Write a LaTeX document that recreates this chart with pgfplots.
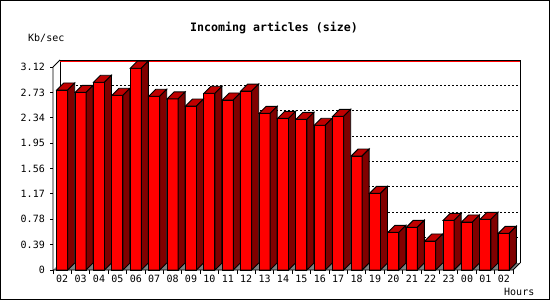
\documentclass[border=0pt]{standalone}
\usepackage{pgfplots}
\pgfplotsset{compat=1.18}
\usepackage{pgfplotstable}
\usepackage{fontspec}
\setmainfont{DejaVu Sans}
\newfontfamily\monofont{DejaVu Sans Mono}
\definecolor{topred}{RGB}{192,0,0}
\definecolor{sidered}{RGB}{128,0,0}
\definecolor{floorgray}{RGB}{128,128,128}

\pgfplotstableread{
i v
0 2.767
1 2.730
2 2.885
3 2.685
4 3.100
5 2.670
6 2.630
7 2.520
8 2.716
9 2.613
10 2.750
11 2.408
12 2.330
13 2.316
14 2.224
15 2.362
16 1.752
17 1.178
18 0.579
19 0.656
20 0.446
21 0.763
22 0.738
23 0.779
24 0.564
}\datatable

\def\dx{0.38043}
\def\dy{0.10759}
\def\hw{0.29891}

\begin{document}
\begin{tikzpicture}[x=1bp,y=1bp]
\useasboundingbox (0,0) rectangle (550,300);
\begin{axis}[
  at={(53bp,30bp)}, anchor=south west,
  scale only axis, width=460bp, height=203bp,
  xmin=-0.5, xmax=24.5, ymin=0, ymax=3.12,
  clip=false,
  axis line style={draw=none},
  tick pos=left, tick align=outside,
  major tick length=3bp,
  tick style={black, line width=0.9bp},
  xtick={-0.5,0.5,...,24.5},
  xticklabels={02,03,04,05,06,07,08,09,10,11,12,13,14,15,16,17,18,19,20,21,22,23,00,01,02,{}},
  xtick style={/pgfplots/major tick length=4bp},
  xticklabel style={xshift=9.2bp, anchor=north, inner sep=0pt, yshift=-2bp},
  ytick={0,0.39,0.78,1.17,1.56,1.95,2.34,2.73,3.12},
  yticklabels={0,0.39,0.78,1.17,1.56,1.95,2.34,2.73,3.12},
  yticklabel style={anchor=east, inner sep=0pt, xshift=-5bp},
  ticklabel style={font=\monofont\fontsize{10bp}{12bp}\selectfont},
]
% floor
\fill[floorgray] (axis cs:-0.5,0) -- (axis cs:24.5,0) -- ([shift={(7bp,7bp)}]axis cs:24.5,0) -- ([shift={(7bp,7bp)}]axis cs:-0.5,0) -- cycle;
% back grid lines
\pgfplotsinvokeforeach{0.39,0.78,1.17,1.56,1.95,2.34,2.73}{
  \draw[black, line width=0.9bp, dash pattern=on 2bp off 2bp] ([shift={(7bp,7bp)}]axis cs:-0.5,#1) -- ([shift={(7bp,7bp)}]axis cs:24.5,#1);
}
% back wall frame
\draw[black, line width=0.9bp] ([shift={(7bp,7bp)}]axis cs:-0.5,0) -- ([shift={(7bp,7bp)}]axis cs:-0.5,3.12) -- ([shift={(7bp,7bp)}]axis cs:24.5,3.12) -- ([shift={(7bp,7bp)}]axis cs:24.5,0);
\draw[red, line width=0.9bp] ([shift={(7bp,6bp)}]axis cs:-0.5,3.12) -- ([shift={(7bp,6bp)}]axis cs:24.5,3.12);
% bars: front faces
\addplot[ybar, bar width=11bp, fill=red, draw=black, line width=0.9bp] table[x=i, y=v] {\datatable};
% bars: top and side faces
\pgfplotsinvokeforeach{0,...,24}{
  \pgfplotstablegetelem{#1}{v}\of\datatable
  \pgfmathsetmacro\va{\pgfplotsretval}
  \pgfmathsetmacro\vb{\va+\dy}
  \pgfmathsetmacro\xl{#1-\hw}
  \pgfmathsetmacro\xr{#1+\hw}
  \pgfmathsetmacro\xlb{\xl+\dx}
  \pgfmathsetmacro\xrb{\xr+\dx}
  \addplot[fill=topred, draw=black, line width=0.9bp] coordinates {(\xl,\va) (\xlb,\vb) (\xrb,\vb) (\xr,\va)} -- cycle;
  \addplot[fill=sidered, draw=black, line width=0.9bp] coordinates {(\xr,0) (\xrb,\dy) (\xrb,\vb) (\xr,\va)} -- cycle;
}
% front axis lines
\draw[black, line width=0.9bp] ([shift={(7bp,7bp)}]axis cs:-0.5,3.12) -- (axis cs:-0.5,3.12) -- (axis cs:-0.5,0) -- (axis cs:24.5,0) -- ([shift={(7bp,7bp)}]axis cs:24.5,0);
\end{axis}
\node[anchor=base, inner sep=0pt, font=\monofont\bfseries\fontsize{11.6bp}{14bp}\selectfont] at (274,269) {Incoming articles (size)};
\node[anchor=base west, inner sep=0pt, font=\monofont\fontsize{10bp}{12bp}\selectfont] at (28,259) {Kb/sec};
\node[anchor=base west, inner sep=0pt, font=\monofont\fontsize{10bp}{12bp}\selectfont] at (504,5) {Hours};
\draw[black, line width=1bp] (0.5,0.5) rectangle (549.5,299.5);
\end{tikzpicture}
\end{document}
